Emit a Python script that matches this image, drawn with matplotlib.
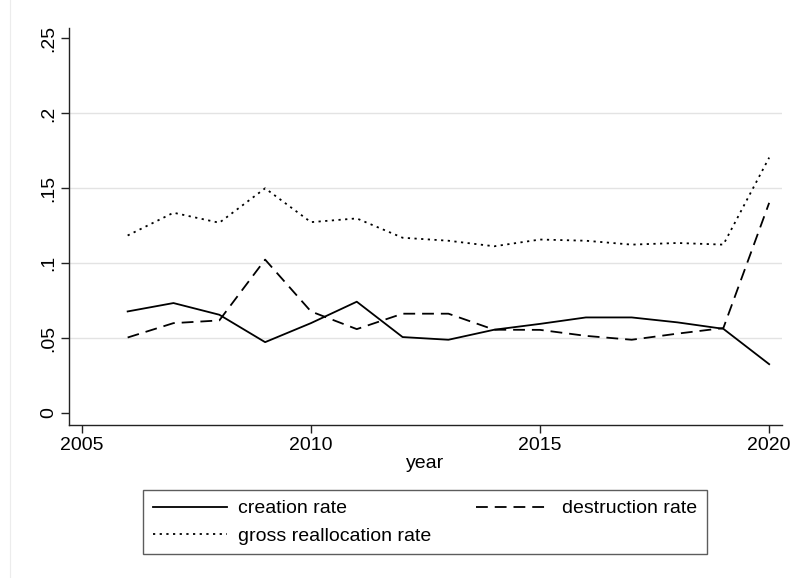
import matplotlib
matplotlib.use("Agg")
import matplotlib.pyplot as plt
from matplotlib.lines import Line2D

plt.rcParams['font.family'] = ['Liberation Sans', 'DejaVu Sans']
plt.rcParams['lines.scale_dashes'] = False

years = list(range(2006, 2021))
creation = [0.0678, 0.0734, 0.0656, 0.0473, 0.0600, 0.0743, 0.0507, 0.0489,
            0.0556, 0.0595, 0.0638, 0.0638, 0.0605, 0.0562, 0.0326]
destruction = [0.0504, 0.0600, 0.0618, 0.1024, 0.0678, 0.0560, 0.0663, 0.0663,
               0.0556, 0.0555, 0.0515, 0.0489, 0.0530, 0.0567, 0.1403]
gross = [0.1185, 0.1337, 0.1270, 0.1500, 0.1274, 0.1299, 0.1170, 0.1150,
         0.1113, 0.1158, 0.1150, 0.1124, 0.1135, 0.1124, 0.1705]

xticks = [2005, 2010, 2015, 2020]
yticks = [0, 0.05, 0.1, 0.15, 0.2, 0.25]
ylabels = ['0', '.05', '.1', '.15', '.2', '.25']

W, H = 793, 578
fig = plt.figure(figsize=(W / 100, H / 100), dpi=100)
ax = fig.add_axes([69 / W, 1 - 425 / H, (782 - 69) / W, (425 - 28) / H])

# faint outer graph border on the left
fig.add_artist(Line2D([10 / W, 10 / W], [0, 1], color='#ececec', lw=0.8))

l1, = ax.plot(years, creation, color='black', lw=1.3, ls='-')
l2, = ax.plot(years, destruction, color='black', lw=1.3, ls=(0, (8.5, 5)))
l3, = ax.plot(years, gross, color='black', lw=1.3, ls=(0, (1.6, 3.2)))

ax.set_xlim(2004.72, 2020.28)
ax.set_ylim(-0.008, 0.257)
ax.set_xticks(xticks)
ax.set_yticks(yticks)
ax.set_yticklabels(ylabels, rotation=90, va='center')

for g in yticks[1:-1]:
    ax.axhline(g, color='#e3e3e3', lw=1.0, zorder=0)

for s in ['top', 'right']:
    ax.spines[s].set_visible(False)
for s in ['left', 'bottom']:
    ax.spines[s].set_linewidth(1.0)
    ax.spines[s].set_color('#222222')
ax.tick_params(axis='both', length=5.5, width=1.0, color='#222222',
               labelsize=14, pad=3)
ax.set_xlabel('year', fontsize=14, labelpad=1)

# legend filled column by column: creation / gross, then destruction
leg = fig.legend([l1, l3, l2],
                 ['creation rate', 'gross reallocation rate', 'destruction rate'],
                 loc='upper left', bbox_to_anchor=(143 / W, 1 - 490 / H),
                 ncol=2, fontsize=14, frameon=True, fancybox=False,
                 handlelength=3.8, handletextpad=0.6, columnspacing=2.3,
                 borderpad=0.5, labelspacing=0.5, borderaxespad=0)
leg.get_frame().set_edgecolor('#333333')
leg.get_frame().set_linewidth(1.0)

fig.savefig('out.png', dpi=100)
